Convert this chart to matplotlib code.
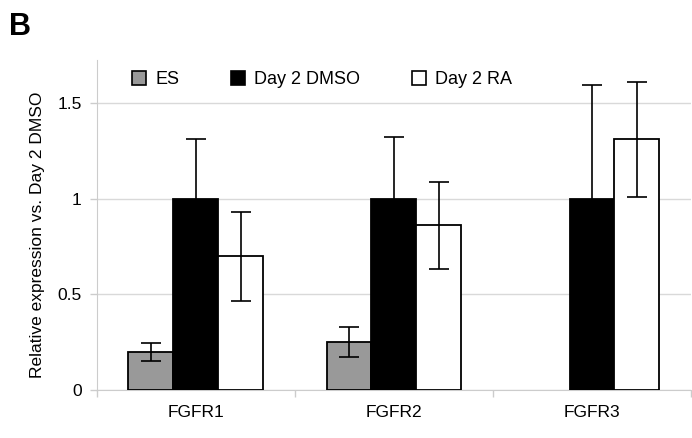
import numpy as np
import matplotlib
matplotlib.use("Agg")
from matplotlib import pyplot as plt
from matplotlib.lines import Line2D

genes = ["FGFR1", "FGFR2", "FGFR3"]
series = ["ES", "Day 2 DMSO", "Day 2 RA"]

es_vals = [0.20, 0.25, 0.0]
es_err = [0.047, 0.08, 0.0]
dmso_vals = [1.0, 1.0, 1.0]
dmso_err = [0.31, 0.32, 0.594]
ra_vals = [0.70, 0.86, 1.31]
ra_err = [0.233, 0.227, 0.30]

colors = ["#999999", "#000000", "#ffffff"]

plt.rcParams['font.family'] = ['Liberation Sans', 'DejaVu Sans']

fig = plt.figure(figsize=(6.92, 4.38), dpi=100)
ax = fig.add_axes([0.140, 0.1096, 0.8586, 0.7534])

x = np.arange(len(genes))
w = 0.227
vals = [es_vals, dmso_vals, ra_vals]
errs = [es_err, dmso_err, ra_err]

for i in range(3):
    pos = x + (i - 1) * w
    v = np.array(vals[i])
    e = np.array(errs[i])
    keep = v > 0
    ax.bar(pos[keep], v[keep], width=w, color=colors[i], edgecolor="black",
           linewidth=1.3, zorder=3)
    ax.errorbar(pos[keep], v[keep], yerr=e[keep], fmt="none", ecolor="black",
                elinewidth=1.2, capsize=7, capthick=1.2, zorder=4)

ax.set_xlim(-0.5, 2.5)
ax.set_ylim(0, 1.725)
ax.set_yticks([0, 0.5, 1, 1.5])
ax.set_yticklabels(["0", "0.5", "1", "1.5"])
ax.set_xticks(x)
ax.set_xticklabels(genes)
ax.set_xticks([-0.5, 0.5, 1.5, 2.5], minor=True)
ax.tick_params(axis="x", which="major", length=0, pad=11, labelsize=12.5)
ax.tick_params(axis="x", which="minor", length=5, color="#cccccc", width=1)
ax.tick_params(axis="y", length=5, color="#cccccc", width=1, pad=6, labelsize=12.5)

ax.yaxis.grid(True, color="#d9d9d9", linewidth=1, zorder=0)
ax.set_axisbelow(True)
for s in ["top", "right"]:
    ax.spines[s].set_visible(False)
ax.spines["left"].set_color("#cccccc")
ax.spines["bottom"].set_color("#cccccc")

ax.set_ylabel("Relative expression vs. Day 2 DMSO", fontsize=12.5)
ax.yaxis.set_label_coords(-0.088, 0.47)

handles = [Line2D([], [], marker="s", linestyle="none", markersize=10,
                  markerfacecolor=c, markeredgecolor="black", markeredgewidth=1.2)
           for c in colors]
ax.legend(handles, series, loc="upper left", bbox_to_anchor=(0.028, 1.015),
          ncol=3, frameon=False, fontsize=13, handlelength=1.0,
          handletextpad=0.4, columnspacing=2.75)

fig.text(0.013, 0.972, "B", fontsize=22, fontweight="bold", va="top", ha="left")

fig.savefig("out.png", dpi=100)
